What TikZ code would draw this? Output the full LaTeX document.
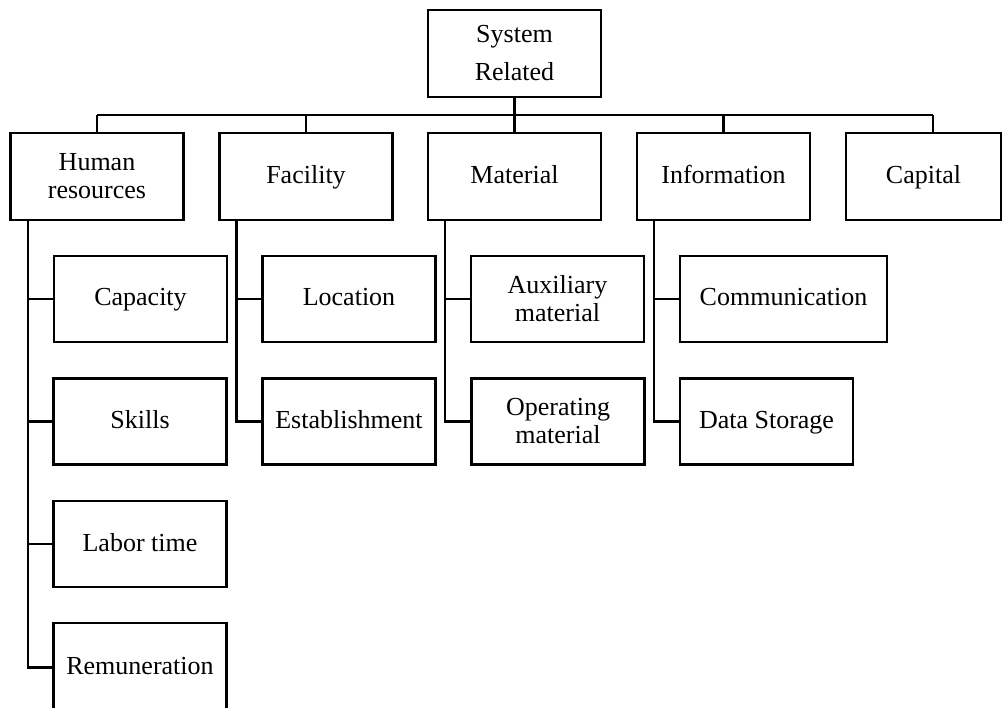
\documentclass[tikz,border=0pt]{standalone}
\usepackage{fontspec}
\setmainfont{Liberation Serif}
\begin{document}
\begin{tikzpicture}[x=1pt,y=-1pt,
  box/.style={draw, line width=2.7pt, inner sep=0pt, align=center,
    minimum width=173pt, minimum height=86pt,
    font=\fontsize{26}{28}\selectfont},
  one/.style={text height=19pt, text depth=5pt},
  link/.style={line width=2.5pt}]
\useasboundingbox (0,0) rectangle (1006,708);

% root
\node[box, minimum height=87pt, font=\fontsize{26}{38}\selectfont] (root) at (514.5,53.5) {System\\Related};

% first level
\node[box, minimum height=87pt] (hr)        at (97,176.5)    {Human\\resources};
\node[box, one, minimum height=87pt] (fac)  at (306,176.5)   {Facility};
\node[box, one, minimum height=87pt] (mat)  at (514.5,176.5) {Material};
\node[box, one, minimum height=87pt] (info) at (723.5,176.5) {Information};
\node[box, one, minimum height=87pt, minimum width=155pt] (cap) at (923.5,176.5) {Capital};

% human resources
\node[box, one] (capa) at (140.5,299) {Capacity};
\node[box, one] (skil) at (140,421.5) {Skills};
\node[box, one] (labr) at (140,544)   {Labor time};
\node[box, one, minimum height=89pt] (remu) at (140,667.5) {Remuneration};

% facility
\node[box, one] (loc) at (349,299)   {Location};
\node[box, one] (est) at (349,421.5) {Establishment};

% material
\node[box] (aux) at (557.5,299)   {Auxiliary\\material};
\node[box] (opm) at (558,421.5)   {Operating\\material};

% information
\node[box, one, minimum width=207pt] (com) at (783.5,299) {Communication};
\node[box, one] (dat) at (766.5,421.5) {Data Storage};

% top-level bus
\coordinate (busL) at (97,115);
\coordinate (busR) at (933,115);
\draw[link] (busL) -- (busR);
\draw[link] (root.south) -- (root.south |- busL);
\draw[link] (hr.north)   -- (hr.north |- busL);
\draw[link] (fac.north)  -- (fac.north |- busL);
\draw[link] (mat.north)  -- (mat.north |- busL);
\draw[link] (info.north) -- (info.north |- busL);
\draw[link] (busR) -- (busR |- cap.north);

% branch trunks
\coordinate (hrT)   at (28,220);
\coordinate (facT)  at (236.5,220);
\coordinate (matT)  at (445,220);
\coordinate (infoT) at (654,220);

\draw[link] (hrT) |- (remu.west);
\draw[link] (hrT |- capa.west) -- (capa.west);
\draw[link] (hrT |- skil.west) -- (skil.west);
\draw[link] (hrT |- labr.west) -- (labr.west);

\draw[link] (facT) |- (est.west);
\draw[link] (facT |- loc.west) -- (loc.west);

\draw[link] (matT) |- (opm.west);
\draw[link] (matT |- aux.west) -- (aux.west);

\draw[link] (infoT) |- (dat.west);
\draw[link] (infoT |- com.west) -- (com.west);
\end{tikzpicture}
\end{document}
